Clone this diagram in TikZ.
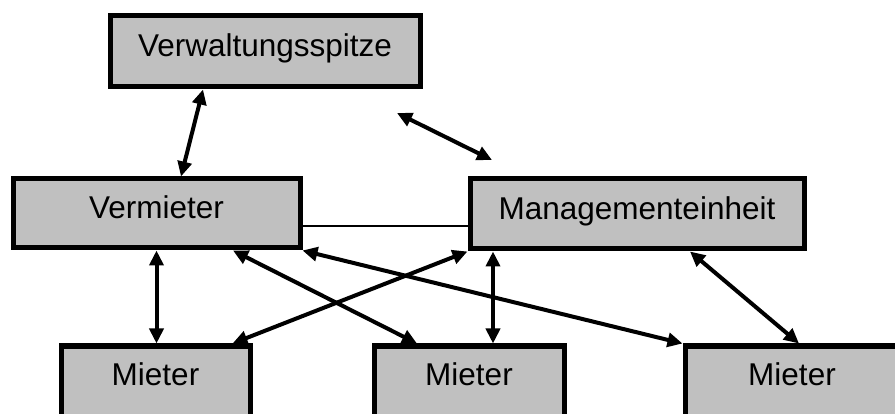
\documentclass[tikz,border=0pt]{standalone}
\usepackage{fontspec}
\setmainfont{Liberation Sans}
\usetikzlibrary{arrows.meta}
\definecolor{boxgray}{HTML}{C0C0C0}
\tikzset{
  box/.style={draw=black, fill=boxgray, line width=5pt, rectangle, inner xsep=0pt, inner ysep=0pt,
    font=\fontsize{31.5pt}{36pt}\selectfont, text height=22pt, text depth=11pt},
  tenant/.style={box, text height=39pt, text depth=55pt},
  link/.style={line width=4pt, {Triangle[length=15pt,width=14pt]}-{Triangle[length=15pt,width=14pt]}},
  plainline/.style={line width=2.3pt}
}
\begin{document}
\begin{tikzpicture}[x=1pt,y=-1pt]
\useasboundingbox (0,0) rectangle (895,414);
\clip (0,0) rectangle (895,414);
\node[box, minimum width=310pt, minimum height=71pt] (verw) at (265,51.5) {Verwaltungsspitze};
\node[box, minimum width=287pt, minimum height=69pt] (verm) at (156.5,213.5) {Vermieter};
\node[box, minimum width=334pt, minimum height=70pt] (mgmt) at (637,214) {Managementeinheit};
\node[tenant, minimum width=189pt] (m1) at (155.5,393) {Mieter};
\node[tenant, minimum width=190pt] (m2) at (469,393) {Mieter};
\node[tenant, minimum width=214pt] (m3) at (792,393) {Mieter};
\coordinate (fa) at (397,113);
\coordinate (fb) at (492,160);
% connectors
\draw[link] ([xshift=-62pt]verw.south) -- ([xshift=24.5pt]verm.north);
\draw[link] (fa) -- (fb);
\draw[plainline] ([yshift=-12.5pt]verm.east) -- ([yshift=-12.5pt]verm.east -| mgmt.west);
\draw[link] (verm.south) -- (verm.south |- m1.north);
\draw[link] ([xshift=76.5pt]verm.south) -- ([xshift=-52pt]m2.north);
\draw[link] (verm.south east) -- (m3.north west);
\draw[link] (mgmt.south west) -- ([xshift=77pt]m1.north);
\draw[link] ([xshift=-144pt]mgmt.south) -- ([xshift=-144pt]mgmt.south |- m2.north);
\draw[link] ([xshift=53pt]mgmt.south) -- ([xshift=7pt]m3.north);
\end{tikzpicture}
\end{document}
